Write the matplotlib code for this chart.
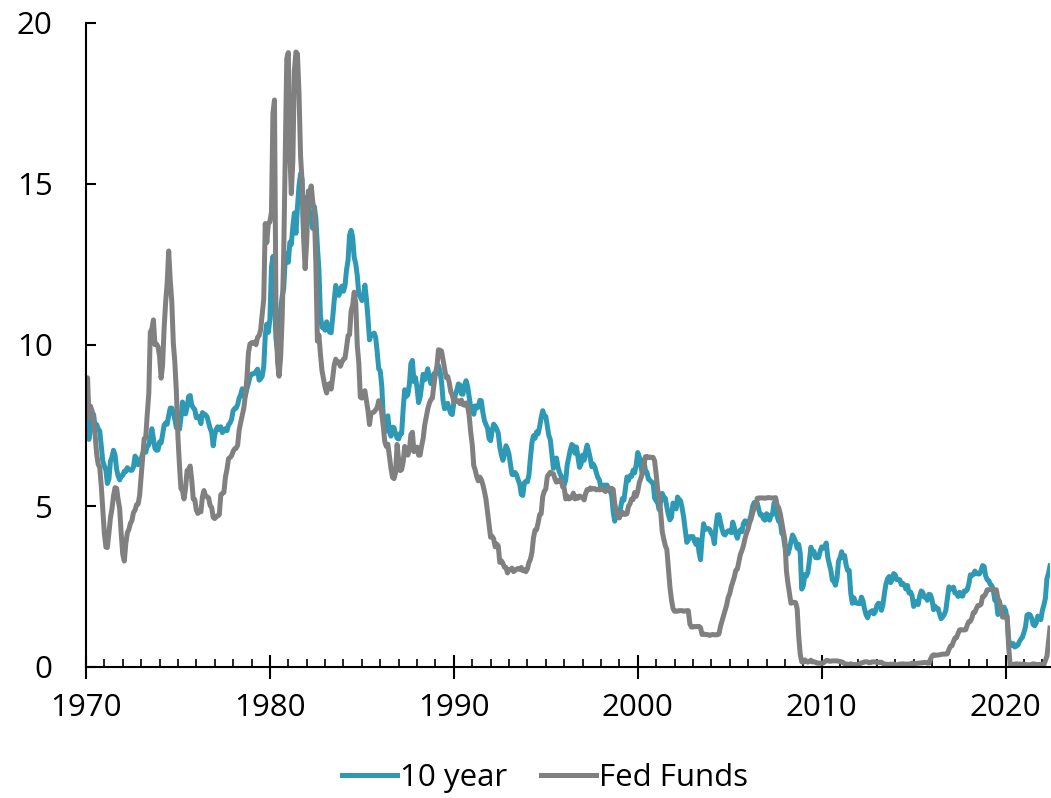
import numpy as np
import pandas as pd
import matplotlib
matplotlib.use("Agg")
import matplotlib.pyplot as plt
import matplotlib.dates as mdates

plt.rcParams['font.family'] = ['Open Sans', 'DejaVu Sans']

# monthly averages, Jan 1970 - Jun 2022 (one year per row)
ten_year = [
    7.79, 7.24, 7.07, 7.39, 7.91, 7.84, 7.46, 7.53, 7.39, 7.33, 6.84, 6.39,
    6.24, 6.11, 5.70, 5.83, 6.39, 6.52, 6.73, 6.58, 6.14, 5.93, 5.81, 5.93,
    5.95, 6.08, 6.07, 6.19, 6.13, 6.11, 6.11, 6.21, 6.55, 6.48, 6.28, 6.36,
    6.46, 6.64, 6.71, 6.67, 6.85, 6.90, 7.13, 7.40, 7.09, 6.79, 6.73, 6.74,
    6.99, 6.96, 7.21, 7.51, 7.58, 7.54, 7.81, 8.04, 8.04, 7.90, 7.68, 7.43,
    7.50, 7.39, 7.73, 8.23, 8.06, 7.86, 8.06, 8.40, 8.43, 8.14, 8.05, 8.00,
    7.74, 7.79, 7.73, 7.56, 7.90, 7.86, 7.83, 7.77, 7.59, 7.41, 7.29, 6.87,
    7.21, 7.39, 7.46, 7.37, 7.46, 7.28, 7.33, 7.40, 7.34, 7.52, 7.58, 7.69,
    7.96, 8.03, 8.04, 8.15, 8.35, 8.46, 8.64, 8.41, 8.42, 8.64, 8.81, 9.01,
    9.10, 9.10, 9.12, 9.18, 9.25, 8.91, 8.95, 9.03, 9.33, 10.30, 10.65, 10.39,
    10.80, 12.41, 12.75, 11.47, 10.18, 9.78, 10.25, 11.10, 11.51, 11.75, 12.68, 12.84,
    12.57, 13.19, 13.12, 13.68, 14.10, 13.47, 14.28, 14.94, 15.32, 15.15, 13.39, 13.72,
    14.59, 14.43, 13.86, 13.87, 13.62, 14.30, 13.95, 13.06, 12.34, 10.91, 10.55, 10.54,
    10.46, 10.72, 10.51, 10.40, 10.38, 10.85, 11.38, 11.85, 11.65, 11.54, 11.69, 11.83,
    11.67, 11.84, 12.32, 12.63, 13.41, 13.56, 13.36, 12.72, 12.52, 12.16, 11.57, 11.50,
    11.38, 11.51, 11.86, 11.43, 10.85, 10.16, 10.31, 10.33, 10.37, 10.24, 9.78, 9.26,
    9.19, 8.70, 7.78, 7.30, 7.71, 7.80, 7.30, 7.17, 7.45, 7.43, 7.25, 7.11,
    7.08, 7.25, 7.25, 8.02, 8.61, 8.40, 8.45, 8.76, 9.42, 9.52, 8.86, 8.99,
    8.67, 8.21, 8.37, 8.72, 9.09, 8.92, 9.06, 9.26, 8.98, 8.80, 8.96, 9.11,
    9.09, 9.17, 9.36, 9.18, 8.86, 8.28, 8.02, 8.11, 8.19, 8.01, 7.87, 7.84,
    8.21, 8.47, 8.59, 8.79, 8.76, 8.48, 8.47, 8.75, 8.89, 8.72, 8.39, 8.08,
    8.09, 7.85, 8.11, 8.04, 8.07, 8.28, 8.27, 7.90, 7.65, 7.53, 7.42, 7.09,
    7.03, 7.34, 7.54, 7.48, 7.39, 7.26, 6.84, 6.59, 6.42, 6.59, 6.87, 6.77,
    6.60, 6.26, 5.98, 5.97, 6.04, 5.96, 5.81, 5.68, 5.36, 5.33, 5.72, 5.77,
    5.75, 5.97, 6.48, 6.97, 7.18, 7.10, 7.30, 7.24, 7.46, 7.74, 7.96, 7.81,
    7.78, 7.47, 7.20, 7.06, 6.63, 6.17, 6.28, 6.49, 6.20, 6.04, 5.93, 5.71,
    5.65, 5.81, 6.27, 6.51, 6.74, 6.91, 6.87, 6.64, 6.83, 6.53, 6.20, 6.30,
    6.58, 6.42, 6.69, 6.89, 6.71, 6.49, 6.22, 6.30, 6.21, 6.03, 5.88, 5.81,
    5.54, 5.57, 5.65, 5.64, 5.65, 5.50, 5.46, 5.34, 4.81, 4.53, 4.83, 4.65,
    4.72, 5.00, 5.23, 5.18, 5.54, 5.90, 5.79, 5.94, 5.92, 6.11, 6.03, 6.28,
    6.66, 6.52, 6.26, 5.99, 6.44, 6.10, 6.05, 5.83, 5.80, 5.74, 5.72, 5.24,
    5.16, 5.10, 4.89, 5.14, 5.39, 5.28, 5.24, 4.97, 4.73, 4.57, 4.65, 5.09,
    5.04, 4.91, 5.28, 5.21, 5.16, 4.93, 4.65, 4.26, 3.87, 3.94, 4.05, 4.03,
    4.05, 3.90, 3.81, 3.96, 3.57, 3.33, 3.98, 4.45, 4.27, 4.29, 4.30, 4.27,
    4.15, 4.08, 3.83, 4.35, 4.72, 4.73, 4.50, 4.28, 4.13, 4.10, 4.19, 4.23,
    4.22, 4.17, 4.50, 4.34, 4.14, 4.00, 4.18, 4.26, 4.20, 4.46, 4.54, 4.47,
    4.42, 4.57, 4.72, 4.99, 5.11, 5.11, 5.09, 4.88, 4.72, 4.73, 4.60, 4.56,
    4.76, 4.72, 4.56, 4.69, 4.75, 5.10, 5.00, 4.67, 4.52, 4.53, 4.15, 4.10,
    3.74, 3.74, 3.51, 3.68, 3.88, 4.10, 4.01, 3.89, 3.69, 3.81, 3.53, 2.42,
    2.52, 2.87, 2.82, 2.93, 3.29, 3.72, 3.56, 3.59, 3.40, 3.39, 3.40, 3.59,
    3.73, 3.69, 3.73, 3.85, 3.42, 3.20, 3.01, 2.70, 2.65, 2.54, 2.76, 3.29,
    3.39, 3.58, 3.41, 3.46, 3.17, 3.00, 3.00, 2.30, 1.98, 2.15, 2.01, 1.98,
    1.97, 1.97, 2.17, 2.05, 1.80, 1.62, 1.53, 1.68, 1.72, 1.75, 1.65, 1.72,
    1.91, 1.98, 1.96, 1.76, 1.93, 2.30, 2.58, 2.74, 2.81, 2.62, 2.72, 2.90,
    2.86, 2.71, 2.72, 2.71, 2.56, 2.60, 2.54, 2.42, 2.53, 2.30, 2.33, 2.21,
    1.88, 1.98, 2.04, 1.94, 2.20, 2.36, 2.32, 2.17, 2.17, 2.07, 2.26, 2.24,
    2.09, 1.78, 1.89, 1.81, 1.81, 1.64, 1.50, 1.56, 1.63, 1.76, 2.14, 2.49,
    2.43, 2.42, 2.48, 2.30, 2.30, 2.19, 2.32, 2.21, 2.20, 2.36, 2.35, 2.40,
    2.58, 2.86, 2.84, 2.87, 2.98, 2.91, 2.89, 2.89, 3.00, 3.15, 3.12, 2.83,
    2.71, 2.68, 2.57, 2.53, 2.40, 2.07, 2.06, 1.63, 1.70, 1.71, 1.81, 1.86,
    1.76, 1.50, 0.87, 0.66, 0.67, 0.73, 0.62, 0.65, 0.68, 0.79, 0.87, 0.93,
    1.08, 1.26, 1.61, 1.64, 1.62, 1.52, 1.32, 1.28, 1.37, 1.58, 1.56, 1.47,
    1.76, 1.93, 2.13, 2.75, 2.90, 3.14,
]

fed_funds = [
    8.98, 8.98, 7.76, 8.10, 7.95, 7.61, 7.21, 6.61, 6.29, 6.20, 5.60, 4.90,
    4.14, 3.72, 3.71, 4.16, 4.63, 4.91, 5.31, 5.57, 5.55, 5.20, 4.91, 4.14,
    3.50, 3.29, 3.83, 4.17, 4.27, 4.46, 4.55, 4.80, 4.87, 5.04, 5.06, 5.33,
    5.94, 6.58, 7.09, 7.12, 7.84, 8.49, 10.40, 10.50, 10.78, 10.01, 10.03, 9.95,
    9.65, 8.97, 9.35, 10.51, 11.31, 11.93, 12.92, 12.01, 11.34, 10.06, 9.45, 8.53,
    7.13, 6.24, 5.54, 5.49, 5.22, 5.55, 6.10, 6.14, 6.24, 5.82, 5.22, 5.20,
    4.87, 4.77, 4.84, 4.82, 5.29, 5.48, 5.31, 5.29, 5.25, 5.02, 4.95, 4.65,
    4.61, 4.68, 4.69, 4.73, 5.35, 5.39, 5.42, 5.90, 6.14, 6.47, 6.51, 6.56,
    6.70, 6.78, 6.79, 6.89, 7.36, 7.60, 7.81, 8.04, 8.45, 8.96, 9.76, 10.03,
    10.07, 10.06, 10.09, 10.01, 10.24, 10.29, 10.47, 10.94, 11.43, 13.77, 13.18, 13.78,
    13.82, 14.13, 17.19, 17.61, 10.98, 9.47, 9.03, 9.61, 10.87, 12.81, 15.85, 18.90,
    19.08, 15.93, 14.70, 15.72, 18.52, 19.10, 19.04, 17.82, 15.87, 15.08, 13.31, 12.37,
    13.22, 14.78, 14.68, 14.94, 14.45, 14.15, 12.59, 10.12, 10.31, 9.71, 9.20, 8.95,
    8.68, 8.51, 8.77, 8.80, 8.63, 8.98, 9.37, 9.56, 9.45, 9.48, 9.34, 9.47,
    9.56, 9.59, 9.91, 10.29, 10.32, 11.06, 11.23, 11.64, 11.30, 9.99, 9.43, 8.38,
    8.35, 8.50, 8.58, 8.27, 7.97, 7.53, 7.88, 7.90, 7.92, 7.99, 8.05, 8.27,
    8.14, 7.86, 7.48, 6.99, 6.85, 6.92, 6.56, 6.17, 5.89, 5.85, 6.04, 6.91,
    6.43, 6.10, 6.13, 6.37, 6.85, 6.73, 6.58, 6.73, 7.22, 7.29, 6.69, 6.77,
    6.83, 6.58, 6.58, 6.87, 7.09, 7.51, 7.75, 8.01, 8.19, 8.30, 8.35, 8.76,
    9.12, 9.36, 9.85, 9.84, 9.81, 9.53, 9.24, 8.99, 9.02, 8.84, 8.55, 8.45,
    8.23, 8.24, 8.28, 8.26, 8.18, 8.29, 8.15, 8.13, 8.20, 8.11, 7.81, 7.31,
    6.91, 6.25, 6.12, 5.91, 5.78, 5.90, 5.82, 5.66, 5.45, 5.21, 4.81, 4.43,
    4.03, 4.06, 3.98, 3.73, 3.82, 3.76, 3.25, 3.30, 3.22, 3.10, 3.09, 2.92,
    3.02, 3.03, 3.07, 2.96, 3.00, 3.04, 3.06, 3.03, 3.09, 2.99, 3.02, 2.96,
    3.05, 3.25, 3.34, 3.56, 4.01, 4.25, 4.26, 4.47, 4.73, 4.76, 5.29, 5.45,
    5.53, 5.92, 5.98, 6.05, 6.01, 6.00, 5.85, 5.74, 5.80, 5.76, 5.80, 5.60,
    5.56, 5.22, 5.31, 5.22, 5.24, 5.27, 5.40, 5.22, 5.30, 5.24, 5.31, 5.29,
    5.25, 5.19, 5.39, 5.51, 5.50, 5.56, 5.52, 5.54, 5.54, 5.50, 5.52, 5.50,
    5.56, 5.51, 5.49, 5.45, 5.49, 5.56, 5.54, 5.55, 5.51, 5.07, 4.83, 4.68,
    4.63, 4.76, 4.81, 4.74, 4.74, 4.76, 4.99, 5.07, 5.22, 5.20, 5.42, 5.30,
    5.45, 5.73, 5.85, 6.02, 6.27, 6.53, 6.54, 6.50, 6.52, 6.51, 6.51, 6.40,
    5.98, 5.49, 5.31, 4.80, 4.21, 3.97, 3.77, 3.65, 3.07, 2.49, 2.09, 1.82,
    1.73, 1.74, 1.73, 1.75, 1.75, 1.75, 1.73, 1.74, 1.75, 1.75, 1.34, 1.24,
    1.24, 1.26, 1.25, 1.26, 1.26, 1.22, 1.01, 1.03, 1.01, 1.01, 1.00, 0.98,
    1.00, 1.01, 1.00, 1.00, 1.00, 1.03, 1.26, 1.43, 1.61, 1.76, 1.93, 2.16,
    2.28, 2.50, 2.63, 2.79, 3.00, 3.04, 3.26, 3.50, 3.62, 3.78, 4.00, 4.16,
    4.29, 4.49, 4.59, 4.79, 4.94, 4.99, 5.24, 5.25, 5.25, 5.25, 5.25, 5.24,
    5.25, 5.26, 5.26, 5.25, 5.25, 5.25, 5.26, 5.02, 4.94, 4.76, 4.49, 4.24,
    3.94, 2.98, 2.61, 2.28, 1.98, 2.00, 2.01, 2.00, 1.81, 0.97, 0.39, 0.16,
    0.15, 0.22, 0.18, 0.15, 0.18, 0.21, 0.16, 0.16, 0.15, 0.12, 0.12, 0.12,
    0.11, 0.13, 0.16, 0.20, 0.20, 0.18, 0.18, 0.19, 0.19, 0.19, 0.19, 0.18,
    0.17, 0.16, 0.14, 0.10, 0.09, 0.09, 0.07, 0.10, 0.08, 0.07, 0.08, 0.07,
    0.08, 0.10, 0.13, 0.14, 0.16, 0.16, 0.16, 0.13, 0.14, 0.16, 0.16, 0.16,
    0.14, 0.15, 0.14, 0.15, 0.11, 0.09, 0.09, 0.08, 0.08, 0.09, 0.08, 0.09,
    0.07, 0.07, 0.08, 0.09, 0.09, 0.10, 0.09, 0.09, 0.09, 0.09, 0.09, 0.12,
    0.11, 0.11, 0.11, 0.12, 0.12, 0.13, 0.13, 0.14, 0.14, 0.12, 0.12, 0.24,
    0.34, 0.38, 0.36, 0.37, 0.37, 0.38, 0.39, 0.40, 0.40, 0.40, 0.41, 0.54,
    0.65, 0.66, 0.79, 0.90, 0.91, 1.04, 1.15, 1.16, 1.15, 1.15, 1.16, 1.30,
    1.41, 1.42, 1.51, 1.69, 1.70, 1.82, 1.91, 1.91, 1.95, 2.19, 2.20, 2.27,
    2.40, 2.40, 2.41, 2.42, 2.39, 2.38, 2.40, 2.13, 2.04, 1.83, 1.55, 1.55,
    1.55, 1.58, 0.65, 0.05, 0.05, 0.08, 0.09, 0.10, 0.09, 0.09, 0.09, 0.09,
    0.09, 0.08, 0.07, 0.07, 0.06, 0.08, 0.10, 0.09, 0.08, 0.08, 0.08, 0.08,
    0.08, 0.08, 0.20, 0.33, 0.77, 1.21,
]

dates = pd.date_range("1970-01-01", periods=len(ten_year), freq="MS")

teal = "#2E99B4"
grey = "#808080"

fig = plt.figure(figsize=(10.51, 7.98), dpi=100)
ax = fig.add_axes([86 / 1051, 1 - 667 / 798, 964 / 1051, 644 / 798])

ax.plot(dates, ten_year, color=teal, lw=3.6, label="10 year", solid_joinstyle="round")
ax.plot(dates, fed_funds, color=grey, lw=3.6, label="Fed Funds", solid_joinstyle="round")

ax.set_ylim(0, 20)
ax.set_yticks([0, 5, 10, 15, 20])
ax.set_xlim(dates[0], dates[-1])
ax.xaxis.set_major_locator(mdates.YearLocator(10))
ax.xaxis.set_minor_locator(mdates.YearLocator(1))
ax.xaxis.set_major_formatter(mdates.DateFormatter("%Y"))

for s in ["top", "right"]:
    ax.spines[s].set_visible(False)
for s in ["left", "bottom"]:
    ax.spines[s].set_linewidth(1.5)

ax.tick_params(axis="y", direction="in", length=7, width=1.5, pad=24, labelsize=22.5)
ax.tick_params(axis="x", which="major", direction="inout", length=17, width=1.5, pad=10, labelsize=22.5)
ax.tick_params(axis="x", which="minor", direction="in", length=6, width=1.2)

ax.legend(loc="center", bbox_to_anchor=(545 / 1051, 1 - 778 / 798), bbox_transform=fig.transFigure,
          ncol=2, frameon=False, fontsize=22.5, handlelength=1.75, handletextpad=0.1,
          columnspacing=1.1, borderaxespad=0)

fig.savefig("out.png", dpi=100)
